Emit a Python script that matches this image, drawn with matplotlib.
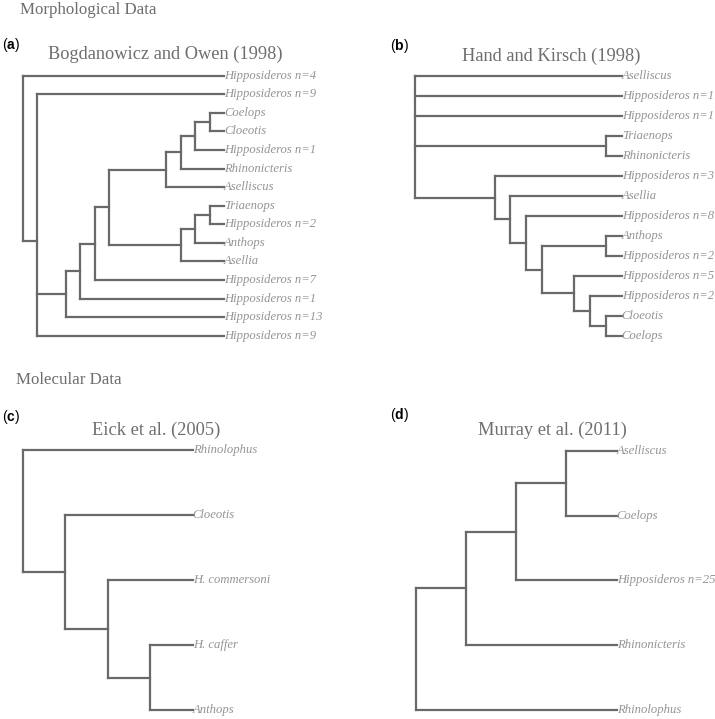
import matplotlib
matplotlib.use("Agg")
import matplotlib.pyplot as plt

# ---------------- data ----------------
# Trees as nested lists: [node_depth, child, child, ...]; leaves are tip labels.
tree_a = [0, "Hipposideros n=4",
          [1, "Hipposideros n=9",
           [3,
            [4,
             [5,
              [6,
               [10, [11, [12, [13, "Coelops", "Cloeotis"], "Hipposideros n=1"],
                     "Rhinonicteris"], "Aselliscus"],
               [11, [12, [13, "Triaenops", "Hipposideros n=2"], "Anthops"], "Asellia"]],
              "Hipposideros n=7"],
             "Hipposideros n=1"],
            "Hipposideros n=13"],
           "Hipposideros n=9"]]
tip_depth_a = 14

tree_b = [0, "Aselliscus", "Hipposideros n=1", "Hipposideros n=1",
          [12, "Triaenops", "Rhinonicteris"],
          [5, "Hipposideros n=3",
           [6, "Asellia",
            [7, "Hipposideros n=8",
             [8, [12, "Anthops", "Hipposideros n=2"],
              [10, "Hipposideros n=5",
               [11, "Hipposideros n=2", [12, "Cloeotis", "Coelops"]]]]]]]]
tip_depth_b = 13

tree_c = [0, "Rhinolophus", [1, "Cloeotis", [2, "H. commersoni", [3, "H. caffer", "Anthops"]]]]
tip_depth_c = 4

tree_d = [0, [1, [2, [3, "Aselliscus", "Coelops"], "Hipposideros n=25"], "Rhinonicteris"], "Rhinolophus"]
tip_depth_d = 4

panel_letters = ["a", "b", "c", "d"]
panel_titles = ["Bogdanowicz and Owen (1998)", "Hand and Kirsch (1998)",
                "Eick et al. (2005)", "Murray et al. (2011)"]
section_titles = ["Morphological Data", "Molecular Data"]

# ---------------- style ----------------
W, H = 715, 719
LINE_C = "#696969"
TIP_C = "#949494"
TITLE_C = "#6e6e6e"
SERIF = "Liberation Serif"
plt.rcParams["mathtext.fontset"] = "custom"
plt.rcParams["mathtext.bf"] = "Liberation Sans:bold"
plt.rcParams["mathtext.rm"] = "Liberation Sans"

fig = plt.figure(figsize=(W / 100, H / 100), dpi=100)


def count_leaves(node):
    if isinstance(node, str):
        return 1
    return sum(count_leaves(c) for c in node[1:])


def draw_tree(ax, tree, tip_depth):
    counter = [0]

    def rec(node):
        if isinstance(node, str):
            y = counter[0]
            counter[0] += 1
            ax.text(tip_depth, y, node, fontsize=9.1, fontstyle="italic", family=SERIF,
                    color=TIP_C, ha="left", va="center", clip_on=False)
            return tip_depth, y
        d = node[0]
        ys = []
        for child in node[1:]:
            cx, cy = rec(child)
            ax.plot([d, cx], [cy, cy], color=LINE_C, lw=1.6,
                    solid_capstyle="projecting", clip_on=False)
            ys.append(cy)
        ax.plot([d, d], [min(ys), max(ys)], color=LINE_C, lw=1.6,
                solid_capstyle="projecting", clip_on=False)
        return d, sum(ys) / len(ys)

    rec(tree)


def place_axes(x0, x1, y0, y1):
    return fig.add_axes([x0 / W, 1 - y1 / H, (x1 - x0) / W, (y1 - y0) / H])


panels = [
    (tree_a, tip_depth_a, (22.7, 224.0, 75.7, 335.7)),
    (tree_b, tip_depth_b, (415.0, 621.7, 76.0, 335.7)),
    (tree_c, tip_depth_c, (22.7, 192.7, 450.0, 710.0)),
    (tree_d, tip_depth_d, (415.7, 616.7, 450.7, 710.0)),
]

for tree, tip_depth, (x0, x1, y0, y1) in panels:
    ax = place_axes(x0, x1, y0, y1)
    n = count_leaves(tree)
    ax.set_xlim(0, tip_depth)
    ax.set_ylim(n - 1, 0)
    ax.axis("off")
    draw_tree(ax, tree, tip_depth)


def ftext(x, y, s, **kw):
    fig.text(x / W, 1 - y / H, s, **kw)


# section headings
ftext(20, 10, section_titles[0], fontsize=12.2, family=SERIF, color=TITLE_C, ha="left", va="center")
ftext(16, 380, section_titles[1], fontsize=12.2, family=SERIF, color=TITLE_C, ha="left", va="center")

# panel titles
title_pos = [(165.5, 54), (551.5, 56), (156, 430), (552, 430)]
for (x, y), t in zip(title_pos, panel_titles):
    ftext(x, y, t, fontsize=13.2, family=SERIF, color=TITLE_C, ha="center", va="center")

# panel letters
letter_pos = [(2, 45), (390, 46), (2, 417), (390, 415)]
for (x, y), l in zip(letter_pos, panel_letters):
    ftext(x, y, "(" + r"$\mathbf{" + l + "}$" + ")", fontsize=10, family="Liberation Sans",
          color="black", ha="left", va="center")

fig.savefig("out.png", dpi=100)
